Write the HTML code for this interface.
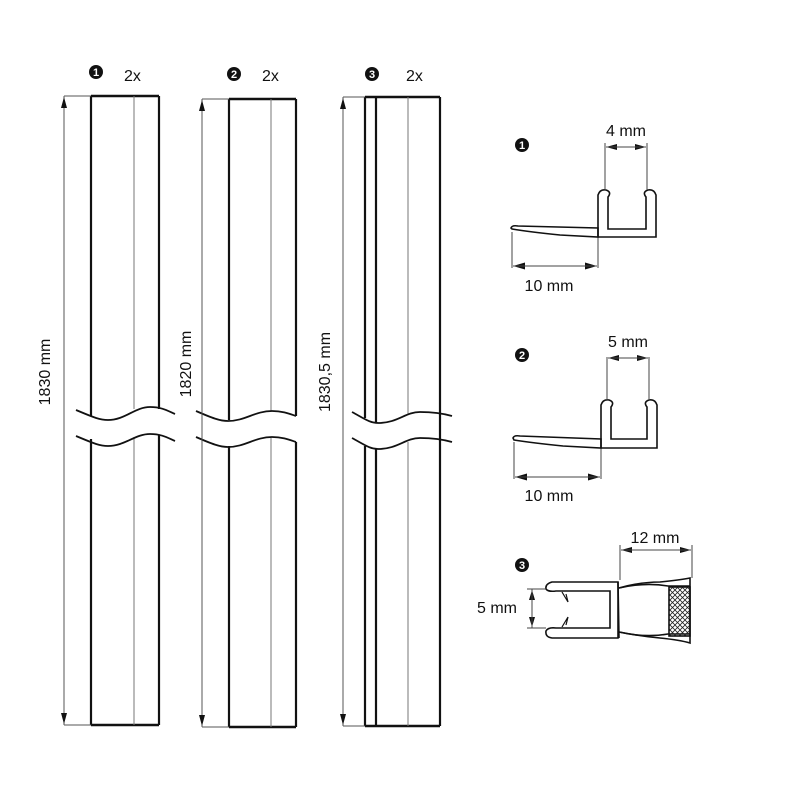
<!DOCTYPE html>
<html><head><meta charset="utf-8"><style>body{margin:0;background:#fff}svg{display:block}text{font-family:"Liberation Sans",sans-serif;fill:#111}.n{fill:#fff;font-weight:bold;font-size:11px}</style></head><body>
<svg width="800" height="800" viewBox="0 0 800 800" xmlns="http://www.w3.org/2000/svg">
<defs>
<pattern id="h" width="5" height="5" patternUnits="userSpaceOnUse"><path d="M0,0L5,5M5,0L0,5" stroke="#222" stroke-width="0.8"/></pattern>
</defs>
<g fill="none" stroke="#111">
<path d="M91,96H159M91,725H159" stroke-width="2.5"/>
<path d="M91,96V416M159,96V409M91,439V725M159,435V725" stroke-width="2.2"/>
<path d="M134,96V409M134,437V725" stroke="#777" stroke-width="1"/>
<path d="M76,410C95,418 100,420 108,420C125,420 135,407 150,407C162,407 168,411 175,414" stroke-width="1.8"/>
<path d="M76,436C95,444 100,446 108,446C125,446 135,434 150,434C162,434 168,438 175,441" stroke-width="1.8"/>
<path d="M64,96H91M64,725H91M64,96V725" stroke="#555" stroke-width="1"/>
<path d="M229,99H296M229,727H296" stroke-width="2.5"/>
<path d="M229,99V420M296,99V416M229,446V727M296,442V727" stroke-width="2.2"/>
<path d="M271,99V411M271,438V727" stroke="#777" stroke-width="1"/>
<path d="M196,411C212,418 220,421 228,421C245,421 255,411 272,411C283,411 290,414 296,416" stroke-width="1.8"/>
<path d="M196,437C212,444 220,447 228,447C245,447 255,437 272,437C283,437 290,440 296,442" stroke-width="1.8"/>
<path d="M202,99H229M202,727H229M202,99V727" stroke="#555" stroke-width="1"/>
<path d="M365,97H440M365,726H440" stroke-width="2.5"/>
<path d="M365,97V418M376,97V422M440,97V726M365,446V726M376,449V726" stroke-width="2.2"/>
<path d="M408,97V415M408,442V726" stroke="#777" stroke-width="1"/>
<path d="M352,412C365,419 370,423 378,423C398,423 405,412 420,412C435,412 445,414 452,416" stroke-width="1.8"/>
<path d="M352,438C365,445 370,449 378,449C398,449 405,438 420,438C435,438 445,440 452,442" stroke-width="1.8"/>
<path d="M343,97H365M343,726H365M343,97V726" stroke="#555" stroke-width="1"/>
</g>
<g fill="#111">
<path d="M64,97l-3,11h6zM64,724l-3,-11h6zM202,100l-3,11h6zM202,726l-3,-11h6zM343,98l-3,11h6zM343,725l-3,-11h6z"/>
<path d="M606,147l11,-3v6zM646,147l-11,-3v6zM513,266l12,-3.5v7zM597,266l-12,-3.5v7z"/>
<path d="M608,358l11,-3v6zM648,358l-11,-3v6zM515,477l12,-3.5v7zM600,477l-12,-3.5v7z"/>
<path d="M621,550l11,-3v6zM691,550l-11,-3v6zM532,590l-3,10h6zM532,627l-3,-10h6z"/>
<circle cx="96" cy="72" r="7"/><circle cx="234" cy="74" r="7"/><circle cx="372" cy="74" r="7"/>
<circle cx="522" cy="145" r="7"/><circle cx="522" cy="355" r="7"/><circle cx="522" cy="565" r="7"/>
</g>
<text class="n" x="96" y="76" text-anchor="middle">1</text>
<text class="n" x="234" y="78" text-anchor="middle">2</text>
<text class="n" x="372" y="78" text-anchor="middle">3</text>
<text class="n" x="522" y="149" text-anchor="middle">1</text>
<text class="n" x="522" y="359" text-anchor="middle">2</text>
<text class="n" x="522" y="569" text-anchor="middle">3</text>
<g font-size="16">
<text x="124" y="81">2x</text>
<text x="262" y="81">2x</text>
<text x="406" y="81">2x</text>
<text transform="translate(50,372) rotate(-90)" text-anchor="middle">1830 mm</text>
<text transform="translate(191,364) rotate(-90)" text-anchor="middle">1820 mm</text>
<text transform="translate(330,372) rotate(-90)" text-anchor="middle">1830,5 mm</text>
</g>
<g fill="none" stroke="#111" stroke-width="1.6">
<path d="M598,237V195Q600,189 606,190Q612,192 608,197V229H646V197Q642,192 648,190Q654,189 656,195V237Z" fill="#fff"/>
<path d="M511,228Q512,225 518,226L598,228V237L560,235Q530,232 512,229Z"/>
<path d="M605,190V143M647,190V143M512,232V268M598,238V268M606,147H646M513,266H597" stroke="#444" stroke-width="1"/>
</g>
<text x="626" y="136" text-anchor="middle" font-size="16">4 mm</text>
<text x="549" y="291" text-anchor="middle" font-size="16">10 mm</text>
<g fill="none" stroke="#111" stroke-width="1.6">
<path d="M601,448V405Q603,399 609,400Q615,402 611,407V439H647V407Q643,402 649,400Q655,399 657,405V448Z" fill="#fff"/>
<path d="M513,438Q514,435 520,436L601,439V448L563,446Q533,443 514,440Z"/>
<path d="M607,400V357M649,400V357M514,442V479M601,449V479M608,358H648M515,477H600" stroke="#444" stroke-width="1"/>
</g>
<text x="628" y="347" text-anchor="middle" font-size="16">5 mm</text>
<text x="549" y="501" text-anchor="middle" font-size="16">10 mm</text>
<g fill="none" stroke="#111" stroke-width="1.6">
<path d="M618,582H552Q545,584 546,589Q548,592 556,591H610V628H556Q548,627 546,631Q545,637 552,638H618Z" fill="#fff"/>
<path d="M562,592L568,602L566,594M562,627L568,617L566,625" stroke-width="1.2"/>
<path d="M618,582L619,638M619,588Q640,582 660,582Q680,580 690,578V643Q680,640 660,638Q640,636 619,632"/>
<path d="M619,588Q645,582 668,586H690M619,632Q645,638 668,634H690"/>
<rect x="669" y="587" width="21" height="49" fill="url(#h)"/>
<path d="M620,580V545M692,578V545M532,589V628M621,550H691M527,589H546M527,628H546" stroke="#444" stroke-width="1"/>
</g>
<text x="655" y="543" text-anchor="middle" font-size="16">12 mm</text>
<text x="497" y="613" text-anchor="middle" font-size="16">5 mm</text>
</svg>
</body></html>
